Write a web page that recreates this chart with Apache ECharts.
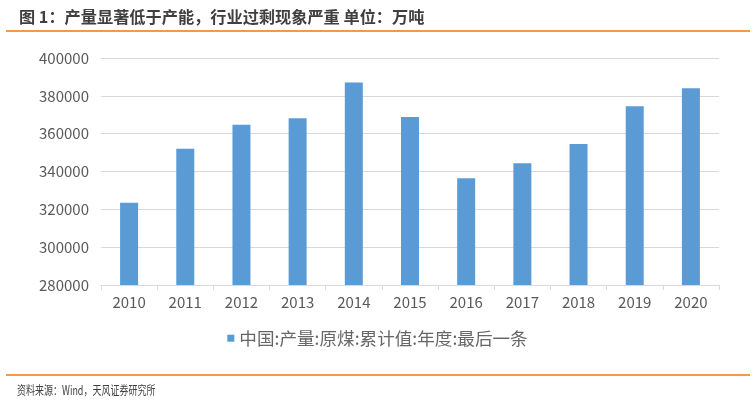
<!DOCTYPE html>
<html>
<head>
<meta charset="utf-8">
<script src="https://cdn.jsdelivr.net/npm/echarts@6/dist/echarts.min.js"></script>
<style>
html,body{margin:0;padding:0;background:#fff;}
#c{width:755px;height:404px;}
</style>
</head>
<body>
<div id="c"></div>
<script>
var categories = ['2010','2011','2012','2013','2014','2015','2016','2017','2018','2019','2020'];
var production = [323500, 352000, 364700, 368100, 387100, 368800, 336400, 344300, 354500, 374500, 384000];
var seriesName = '中国:产量:原煤:累计值:年度:最后一条';
var titleText = '图 1：产量显著低于产能，行业过剩现象严重 单位：万吨';
var sourceText = '资料来源：Wind，天风证券研究所';

var font = '"Noto Sans CJK SC", "Noto Sans", sans-serif';
var chart = echarts.init(document.getElementById('c'), null, {renderer: 'canvas'});
chart.setOption({
  backgroundColor: '#fff',
  animation: false,
  title: {
    text: titleText,
    left: 14, top: 4,
    textStyle: {fontFamily: font, fontSize: 16.2, fontWeight: 'bold', color: '#3f3f3f'}
  },
  graphic: [
    {type: 'line', shape: {x1: 6, y1: 31, x2: 750, y2: 31}, style: {stroke: '#F29A4C', lineWidth: 2}},
    {type: 'line', shape: {x1: 6, y1: 375, x2: 750, y2: 375}, style: {stroke: '#F29A4C', lineWidth: 2}},
    {type: 'text', x: 17, y: 384, scaleX: 0.72, style: {text: sourceText, fontFamily: font, fontSize: 12.5, fill: '#404040'}}
  ],
  legend: {
    data: [seriesName],
    bottom: 52,
    left: 'center',
    itemWidth: 7, itemHeight: 7,
    icon: 'rect',
    itemGap: 5,
    textStyle: {fontFamily: font, fontSize: 17.6, color: '#666666'}
  },
  grid: {left: 101, right: 36, top: 58, bottom: 119, containLabel: false},
  xAxis: {
    type: 'category',
    data: categories,
    axisLine: {lineStyle: {color: '#d9d9d9', width: 1}},
    axisTick: {show: true, alignWithLabel: false, length: 5, lineStyle: {color: '#d9d9d9'}},
    axisLabel: {fontFamily: font, fontSize: 15, color: '#595959', margin: 10}
  },
  yAxis: {
    type: 'value',
    min: 280000, max: 400000, interval: 20000,
    axisLine: {show: false},
    axisTick: {show: false},
    splitLine: {lineStyle: {color: '#d9d9d9', width: 1}},
    axisLabel: {fontFamily: font, fontSize: 15, color: '#595959', margin: 12, formatter: function (v) { return String(v); }}
  },
  series: [{
    name: seriesName,
    type: 'bar',
    data: production,
    barWidth: 18,
    itemStyle: {color: '#5B9BD5'}
  }]
});
</script>
</body>
</html>
